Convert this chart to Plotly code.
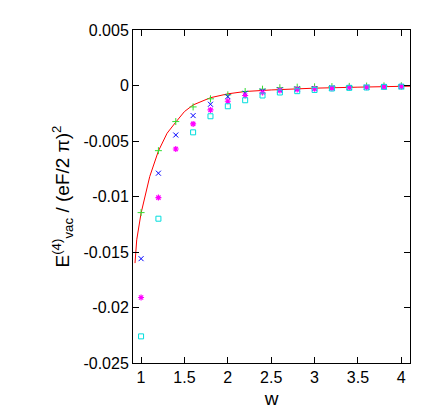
import plotly.graph_objects as go

w = [1.0, 1.2, 1.4, 1.6, 1.8, 2.0, 2.2, 2.4, 2.6, 2.8, 3.0, 3.2, 3.4, 3.6, 3.8, 4.0]
green = [-0.01145, -0.00587, -0.00325, -0.00193, -0.0012, -0.00084, -0.00054, -0.00033, -0.0002, -0.00015, -0.00012, -0.0001, -0.00008, -0.00005, -0.00003, -0.00002]
blue = [-0.0156, -0.0079, -0.00446, -0.00271, -0.00169, -0.0010, -0.0007, -0.0005, -0.0004, -0.0003, -0.00027, -0.0002, -0.00018, -0.00015, -0.00012, -0.0001]
magenta = [-0.0191, -0.0101, -0.00572, -0.00346, -0.0022, -0.00142, -0.0009, -0.00063, -0.00045, -0.00036, -0.0003, -0.00024, -0.00018, -0.00015, -0.00012, -0.0001]
w_cyan = [1.0, 1.2, 1.6, 1.8, 2.0, 2.2, 2.4, 2.6, 2.8, 3.0, 3.2, 3.4, 3.6, 3.8, 4.0]
cyan = [-0.0226, -0.0120, -0.00422, -0.00277, -0.00187, -0.00133, -0.0009, -0.00063, -0.00051, -0.0004, -0.00027, -0.00021, -0.00018, -0.00012, -0.0001]
w_line = [0.93, 0.95, 1.0, 1.1, 1.2, 1.3, 1.4, 1.5, 1.6, 1.8, 2.0, 2.2, 2.5, 3.0, 3.5, 4.0, 4.1]
line = [-0.0160, -0.0139, -0.0115, -0.0082, -0.0059, -0.0043, -0.0033, -0.00235, -0.00175, -0.0011, -0.00075, -0.00054, -0.0004, -0.00024, -0.00015, -0.00009, -0.00006]

fig = go.Figure()
fig.add_trace(go.Scatter(x=w_line, y=line, mode="lines", line=dict(color="red", width=1)))
fig.add_trace(go.Scatter(x=w, y=green, mode="markers", marker=dict(symbol="cross-thin", size=5, line=dict(color="#33dd33", width=1))))
fig.add_trace(go.Scatter(x=w, y=blue, mode="markers", marker=dict(symbol="x-thin", size=5, line=dict(color="blue", width=1))))
fig.add_trace(go.Scatter(x=w, y=magenta, mode="markers", marker=dict(symbol="asterisk", size=5, line=dict(color="magenta", width=1.2))))
fig.add_trace(go.Scatter(x=w_cyan, y=cyan, mode="markers", marker=dict(symbol="square-open", size=5, color="#00dddd", line=dict(width=1))))

ax = dict(showgrid=False, zeroline=False, showline=True, linecolor="black", linewidth=1,
          mirror="ticks", ticks="inside", ticklen=6, tickcolor="black")
fig.update_layout(
    width=436, height=416, showlegend=False,
    plot_bgcolor="white", paper_bgcolor="white",
    margin=dict(l=125, r=34, t=22, b=61),
    font=dict(family="Liberation Sans, Arial", size=16, color="black"),
    xaxis=dict(range=[0.907, 4.1], tickvals=[1, 1.5, 2, 2.5, 3, 3.5, 4],
               title=dict(text="w", standoff=6), **ax),
    yaxis=dict(range=[-0.025, 0.005], tickvals=[-0.025, -0.02, -0.015, -0.01, -0.005, 0, 0.005],
               ticktext=["-0.025", "-0.02", "-0.015", "-0.01", "-0.005", "0", "0.005"],
               title=dict(text="E<sup>(4)</sup><sub>vac</sub> / (eF/2 π)<sup>2</sup>", standoff=8), **ax),
)
fig.write_html("out.html")
